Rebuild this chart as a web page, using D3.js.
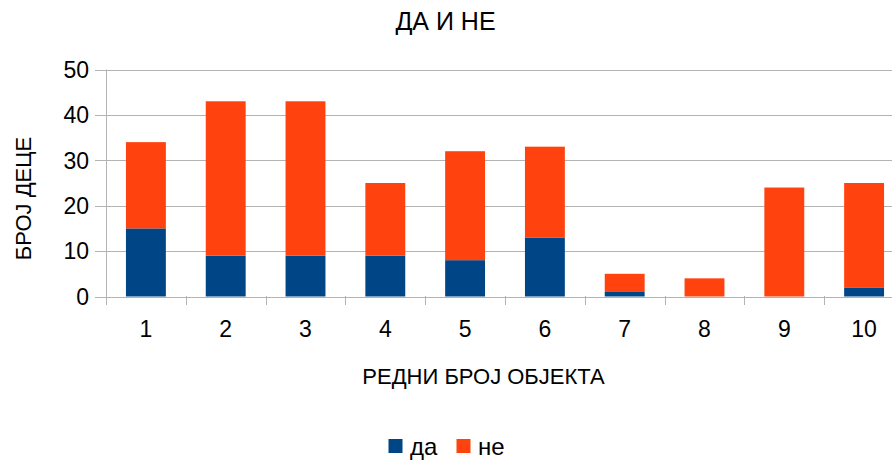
<!DOCTYPE html>
<html><head><meta charset="utf-8">
<script src="https://cdn.jsdelivr.net/npm/d3@7"></script>
<style>body{margin:0;background:#fff}svg{display:block;font-family:"Liberation Sans",Arial,sans-serif}</style>
</head><body><svg id="c" width="892" height="461"></svg>
<script>
const categories = ["1","2","3","4","5","6","7","8","9","10"];
const da = [15, 9, 9, 9, 8, 13, 1, 0, 0, 2];
const ne = [19, 34, 34, 16, 24, 20, 4, 4, 24, 23];
const yTicks = [0, 10, 20, 30, 40, 50];
const seriesNames = ["да", "не"];
const colors = ["#004586", "#ff420e"];

const svg = d3.select("#c");
const x = d3.scaleBand().domain(categories).range([106, 904]).paddingInner(0.5).paddingOuter(0.25);
const y = d3.scaleLinear().domain([0, 50]).range([296.5, 69.5]);

const rows = categories.map((c, i) => ({cat: c, da: da[i], ne: ne[i]}));
const stack = d3.stack().keys(["da", "ne"])(rows);

// gridlines
svg.append("g").selectAll("line").data(yTicks).join("line")
  .attr("x1", 95).attr("x2", 904).attr("y1", d => Math.round(y(d)) + 0.5).attr("y2", d => Math.round(y(d)) + 0.5)
  .attr("stroke", "#b3b3b3").attr("stroke-width", 1);
// y axis line
svg.append("line").attr("x1", 106.5).attr("x2", 106.5).attr("y1", y(50)).attr("y2", 305).attr("stroke", "#b3b3b3");
// x tick marks at band boundaries
const bounds = categories.map(c => x(c) - x.step() * x.paddingInner() / 2).concat([904]);
svg.append("g").selectAll("line").data(bounds).join("line")
  .attr("x1", d => Math.round(d) + 0.5).attr("x2", d => Math.round(d) + 0.5)
  .attr("y1", 296).attr("y2", 305).attr("stroke", "#b3b3b3");

// bars
svg.append("g").selectAll("g").data(stack).join("g").attr("fill", (d, i) => colors[i])
  .selectAll("rect").data(d => d).join("rect")
  .attr("x", d => x(d.data.cat)).attr("width", x.bandwidth())
  .attr("y", d => y(d[1])).attr("height", d => y(d[0]) - y(d[1]));

// y tick labels
svg.append("g").selectAll("text").data(yTicks).join("text")
  .attr("x", 89).attr("y", d => y(d)).attr("dy", "0.36em").attr("text-anchor", "end")
  .attr("font-size", 23).attr("fill", "#000").text(d => d);
// x tick labels
svg.append("g").selectAll("text").data(categories).join("text")
  .attr("x", d => x(d) + x.bandwidth() / 2).attr("y", 337).attr("text-anchor", "middle")
  .attr("font-size", 23).attr("fill", "#000").text(d => d);

// title
svg.append("text").attr("x", 445.5).attr("y", 30).attr("text-anchor", "middle").attr("font-size", 25).text("ДА И НЕ");
// axis titles
svg.append("text").attr("x", 483.5).attr("y", 384).attr("text-anchor", "middle").attr("font-size", 22).text("РЕДНИ БРОЈ ОБЈЕКТА");
svg.append("text").attr("transform", "translate(31,198.5) rotate(-90)").attr("text-anchor", "middle").attr("font-size", 22).text("БРОЈ ДЕЦЕ");

// legend
const legX = [388.5, 456.5];
const lg = svg.append("g").selectAll("g").data(seriesNames).join("g")
  .attr("transform", (d, i) => `translate(${legX[i]},439)`);
lg.append("rect").attr("width", 14).attr("height", 14).attr("fill", (d, i) => colors[i]);
lg.append("text").attr("x", 21.5).attr("y", 15.5).attr("font-size", 24).text(d => d);
</script></body></html>
